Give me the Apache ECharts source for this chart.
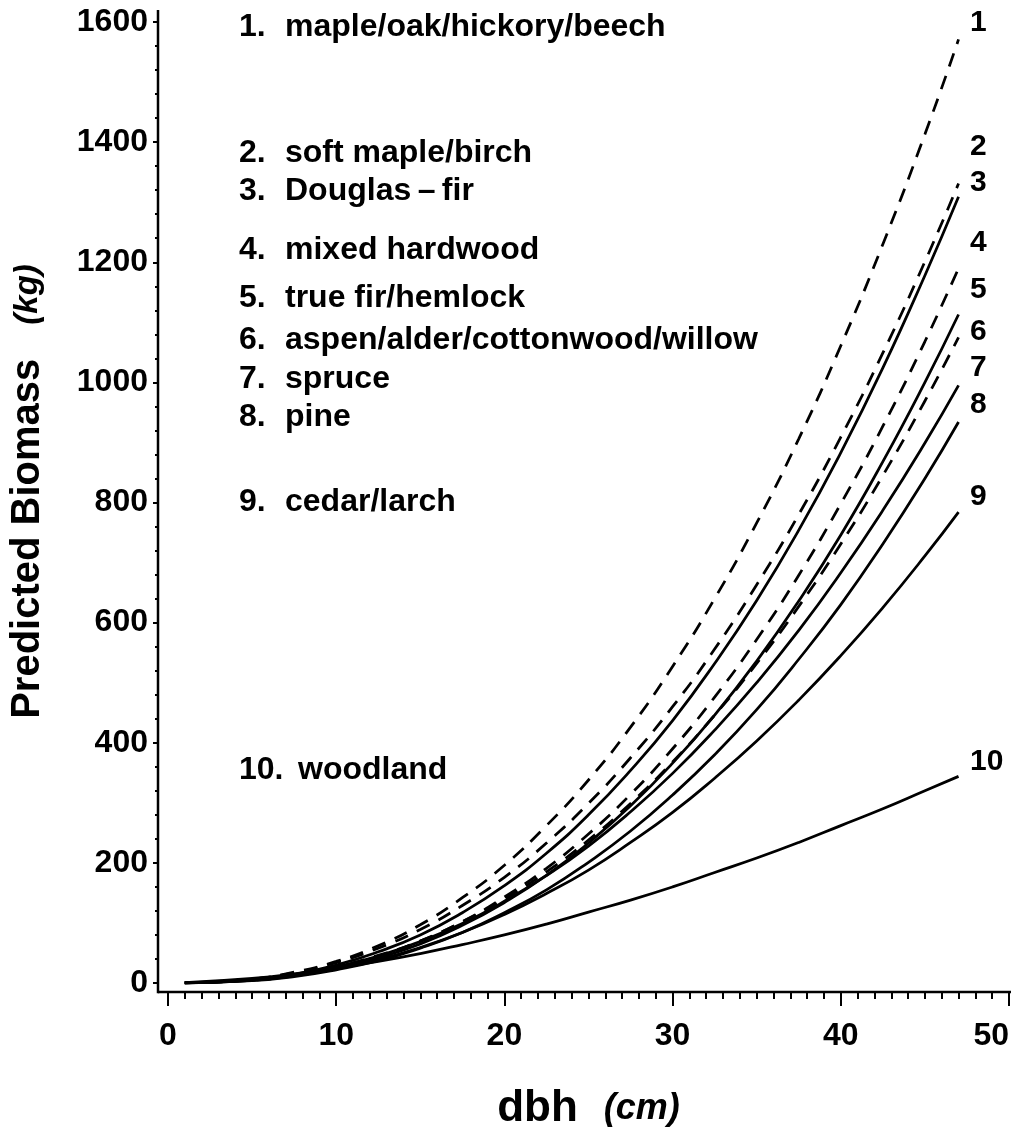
<!DOCTYPE html>
<html>
<head>
<meta charset="utf-8">
<script src="https://cdn.jsdelivr.net/npm/echarts@6/dist/echarts.min.js"></script>
<style>
html, body { margin: 0; padding: 0; background: #fff; }
#main { width: 1013px; height: 1137px; }
</style>
</head>
<body>
<div id="main"></div>
<script>
// dbh (cm) where the curves were read
var dbh = [1, 5, 7.5, 10, 12.5, 15, 17.5, 20, 22.5, 25, 27.5, 30, 32.5, 35, 37.5, 40, 42.5, 45, 47];

// predicted biomass (kg), one list per species group
var mapleOak   = [0.13, 6.7, 18, 36, 62, 97, 142, 196, 262, 338, 426, 527, 640, 766, 906, 1061, 1230, 1413, 1571];
var softMaple  = [0.15, 6.7, 17, 34, 58, 89, 129, 176, 233, 299, 375, 460, 556, 663, 780, 909, 1049, 1201, 1331];
var douglasFir = [0.11, 5.5, 15, 30, 52, 80, 117, 162, 216, 280, 354, 437, 532, 637, 754, 883, 1024, 1178, 1309];
var mixedHard  = [0.08, 4.6, 12.5, 26, 44, 70, 102, 143, 191, 248, 314, 390, 476, 572, 679, 798, 927, 1068, 1190];
var trueFir    = [0.08, 4.3, 11.7, 24, 42, 65, 96, 134, 179, 233, 295, 366, 446, 536, 636, 746, 868, 1000, 1113];
var aspen      = [0.11, 5.1, 13.5, 27, 46, 70, 102, 140, 185, 238, 299, 368, 446, 532, 627, 731, 845, 969, 1075];
var spruce     = [0.13, 5.3, 13.8, 27, 45, 69, 99, 136, 179, 228, 285, 349, 421, 500, 587, 683, 787, 899, 995];
var pine       = [0.08, 4.0, 10.7, 22, 37, 58, 84, 117, 155, 201, 253, 313, 380, 455, 539, 630, 731, 840, 934];
var cedarLarch = [0.13, 5.0, 12.4, 24, 39, 59, 84, 114, 149, 188, 234, 284, 341, 403, 471, 545, 625, 711, 784];
var woodland   = [0.49, 7.6, 15, 25, 36, 49, 64, 80, 98, 118, 138, 160, 184, 208, 234, 262, 290, 320, 344];

var groupNames = ['maple/oak/hickory/beech', 'soft maple/birch', 'Douglas\u2009\u2013\u2009fir',
  'mixed hardwood', 'true fir/hemlock', 'aspen/alder/cottonwood/willow', 'spruce', 'pine',
  'cedar/larch', 'woodland'];
var groupValues = [mapleOak, softMaple, douglasFir, mixedHard, trueFir, aspen, spruce, pine, cedarLarch, woodland];
// hardwood groups are drawn dashed
var isHardwood = [true, true, false, true, false, true, false, false, false, false];

var xTicks = [0, 50, 10];     // min, max, step
var yTicks = [0, 1600, 200];

// layout
var FONT = '"Liberation Sans", Arial, Helvetica, sans-serif';
var GL = 168, GT = 22, GR = 4, GB = 154;
var YOFF = 10, XOFF = 9;
var W = 1013, H = 1137;
var listY = [27, 153, 191, 250, 298, 340, 379, 417, 502, 770];
var endY = [23, 147, 183, 243, 290, 332, 368, 405, 497, 762];

var chart = echarts.init(document.getElementById('main'));

var series = [];
for (var i = 0; i < groupValues.length; i++) {
  var pts = [];
  for (var j = 0; j < dbh.length; j++) {
    pts.push([dbh[j], groupValues[i][j]]);
  }
  series.push({
    name: groupNames[i],
    type: 'line',
    data: pts,
    smooth: true,
    symbol: 'none',
    lineStyle: {
      color: '#000',
      width: 2.75,
      type: isHardwood[i] ? [14, 10] : 'solid'
    }
  });
}

var graphics = [];
for (var k = 0; k < groupNames.length; k++) {
  graphics.push({
    type: 'text',
    style: { text: (k + 1) + '.', x: 239, y: listY[k], fill: '#000',
      font: 'bold 32px ' + FONT, align: 'left', verticalAlign: 'middle' }
  });
  graphics.push({
    type: 'text',
    style: { text: groupNames[k], x: k === 9 ? 298 : 285, y: listY[k], fill: '#000',
      font: 'bold 32px ' + FONT, align: 'left', verticalAlign: 'middle' }
  });
  graphics.push({
    type: 'text',
    style: { text: String(k + 1), x: 970, y: endY[k], fill: '#000',
      font: 'bold 30px ' + FONT, align: 'left', verticalAlign: 'middle' }
  });
}
// the two axis lines (offset from the plot, meeting in the corner)
var axX = GL - YOFF, axY = H - GB + XOFF;
graphics.push({ type: 'line', shape: { x1: axX, y1: 10, x2: axX, y2: axY + 1.25 },
  style: { stroke: '#000', lineWidth: 2.5 } });
graphics.push({ type: 'line', shape: { x1: axX, y1: axY, x2: W - 2, y2: axY },
  style: { stroke: '#000', lineWidth: 2.5 } });

var option = {
  backgroundColor: '#fff',
  animation: false,
  grid: { left: GL, top: GT, right: GR, bottom: GB, containLabel: false },
  xAxis: {
    type: 'value',
    min: xTicks[0], max: xTicks[1], interval: xTicks[2],
    offset: XOFF,
    axisLine: { show: false, onZero: false },
    axisTick: { show: true, length: 14, lineStyle: { color: '#000', width: 2 } },
    minorTick: { show: true, splitNumber: 10, length: 7, lineStyle: { color: '#000', width: 2 } },
    splitLine: { show: false },
    axisLabel: { color: '#000', fontSize: 32, fontWeight: 'bold', fontFamily: FONT, margin: 28,
      alignMaxLabel: 'right', formatter: function (v) { return String(v); } },
    name: '{a|dbh}{b|(cm)}',
    nameLocation: 'middle',
    nameGap: 95,
    nameTextStyle: {
      rich: {
        a: { fontSize: 44, fontWeight: 'bold', fontFamily: FONT, color: '#000' },
        b: { fontSize: 36, fontWeight: 'bold', fontStyle: 'italic', fontFamily: FONT, color: '#000',
          padding: [0, 0, 0, 26] }
      }
    }
  },
  yAxis: {
    type: 'value',
    min: yTicks[0], max: yTicks[1], interval: yTicks[2],
    offset: YOFF,
    axisLine: { show: false, onZero: false },
    axisTick: { show: true, length: 5, lineStyle: { color: '#000', width: 2 } },
    minorTick: { show: true, splitNumber: 5, length: 3, lineStyle: { color: '#000', width: 2 } },
    splitLine: { show: false },
    axisLabel: { color: '#000', fontSize: 32, fontWeight: 'bold', fontFamily: FONT, margin: 10,
      formatter: function (v) { return String(v); } },
    name: '{a|Predicted Biomass}{b|(kg)}',
    nameLocation: 'middle',
    nameGap: 110,
    nameTextStyle: {
      rich: {
        a: { fontSize: 40, fontWeight: 'bold', fontFamily: FONT, color: '#000',
          padding: [0, 0, 0, 22] },
        b: { fontSize: 33, fontWeight: 'bold', fontStyle: 'italic', fontFamily: FONT, color: '#000',
          padding: [0, 0, 0, 34] }
      }
    }
  },
  graphic: graphics,
  series: series
};
chart.setOption(option);
</script>
</body>
</html>
